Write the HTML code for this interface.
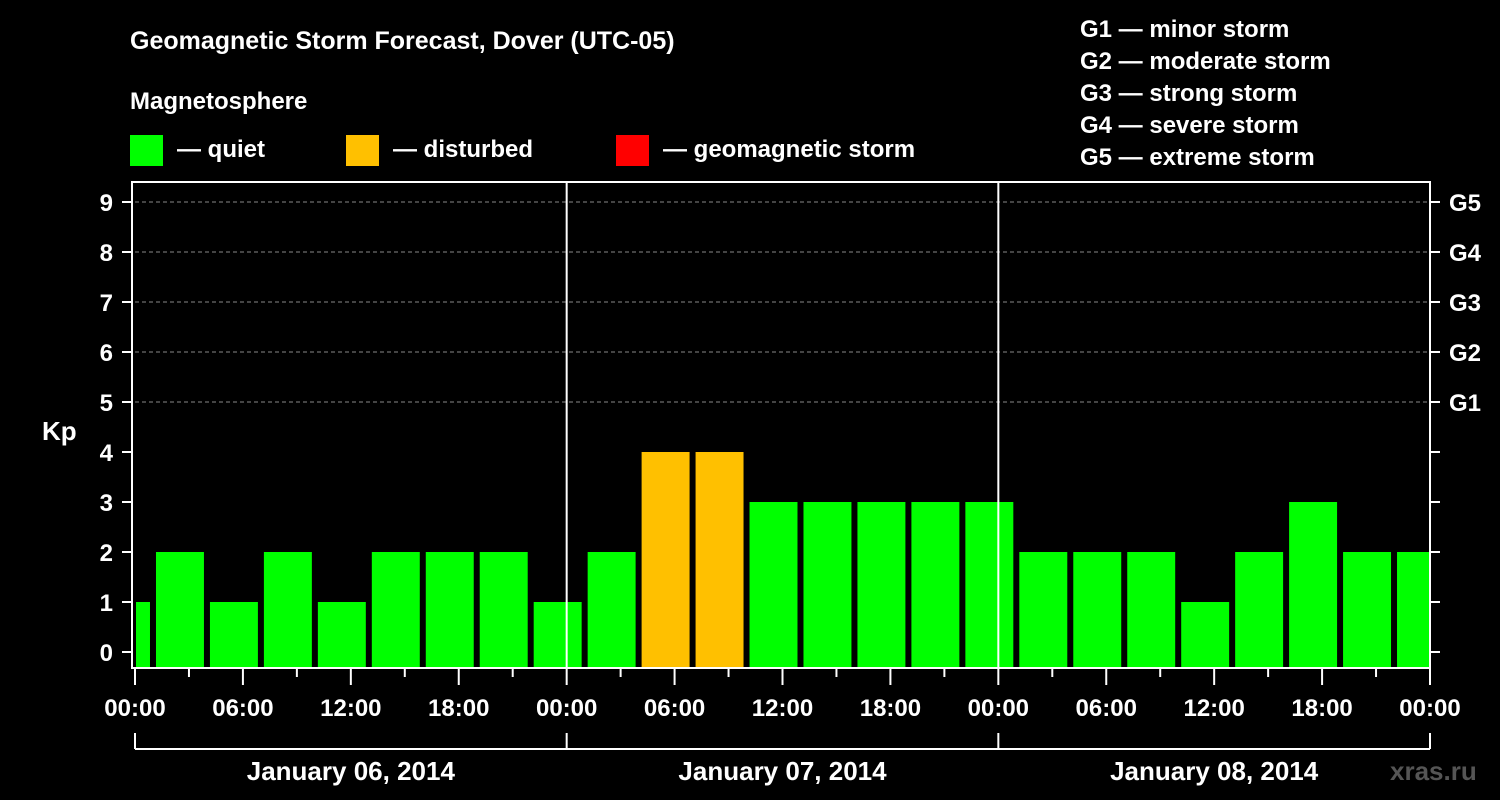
<!DOCTYPE html>
<html><head><meta charset="utf-8"><style>
html,body{margin:0;padding:0;background:#000;}
svg{display:block;font-family:"Liberation Sans",Arial,sans-serif;font-weight:bold;}
</style></head><body>
<svg id="chart" width="1500" height="800" viewBox="0 0 1500 800">
<text x="130" y="49" fill="#fff" font-size="25">Geomagnetic Storm Forecast, Dover (UTC-05)</text>
<text x="130" y="109" fill="#fff" font-size="24">Magnetosphere</text>
<g><rect x="130" y="135" width="33" height="31" fill="#00ff00"/><text x="177" y="157" fill="#fff" font-size="24">— quiet</text></g>
<g><rect x="346" y="135" width="33" height="31" fill="#ffc000"/><text x="393" y="157" fill="#fff" font-size="24">— disturbed</text></g>
<g><rect x="616" y="135" width="33" height="31" fill="#ff0000"/><text x="663" y="157" fill="#fff" font-size="24">— geomagnetic storm</text></g>
<g fill="#fff" font-size="24">
<text x="1080" y="37">G1 — minor storm</text>
<text x="1080" y="69">G2 — moderate storm</text>
<text x="1080" y="101">G3 — strong storm</text>
<text x="1080" y="133">G4 — severe storm</text>
<text x="1080" y="165">G5 — extreme storm</text>
</g>
<text x="42" y="440" fill="#fff" font-size="26">Kp</text>
<text x="1390" y="780" fill="#555" font-size="26">xras.ru</text>
<g id="plot"></g>
</svg>
<script>
const kpValues=[1,2,1,2,1,2,2,2,1,2,4,4,3,3,3,3,3,2,2,2,1,2,3,2,2];
const barStartHours=[-2,1,4,7,10,13,16,19,22,25,28,31,34,37,40,43,46,49,52,55,58,61,64,67,70];
const xTickLabels=["00:00","06:00","12:00","18:00","00:00","06:00","12:00","18:00","00:00","06:00","12:00","18:00","00:00"];
const dayLabels=["January 06, 2014","January 07, 2014","January 08, 2014"];
const gLabels=["G1","G2","G3","G4","G5"];
const NS="http://www.w3.org/2000/svg";
const L=135,R=1430,T=182,B=668;
const X=h=>L+h*(R-L)/72;
const Y=v=>652-v*50;
const g=document.getElementById('plot');
function mk(t,a,p){const e=document.createElementNS(NS,t);for(const k in a)e.setAttribute(k,a[k]);(p||g).appendChild(e);return e;}
// grid
for(let v=5;v<=9;v++){const e=mk('line',{x1:L,x2:R,y1:Y(v),y2:Y(v),stroke:'#888','stroke-dasharray':'4,3','stroke-width':1});

}
// bars
kpValues.forEach((v,i)=>{let x0=X(barStartHours[i])+3,x1=X(barStartHours[i]+3)-3;x0=Math.max(x0,L+1);x1=Math.min(x1,R);
const e=mk('rect',{x:x0,y:Y(v),width:x1-x0,height:B-Y(v),fill:v>=5?'#ff0000':(v>=4?'#ffc000':'#00ff00')});

});
// day separators
[24,48].forEach(h=>{const e=mk('line',{x1:X(h),x2:X(h),y1:T,y2:B,stroke:'#fff','stroke-width':2});

});
// frame
const fr=mk('rect',{x:L-3,y:T,width:R-L+3,height:B-T,fill:'none',stroke:'#fff','stroke-width':2});


// y ticks
for(let v=0;v<=9;v++){mk('line',{x1:L-13,x2:L-3,y1:Y(v),y2:Y(v),stroke:'#fff','stroke-width':2});
mk('line',{x1:R,x2:R+10,y1:Y(v),y2:Y(v),stroke:'#fff','stroke-width':2});
const t=mk('text',{x:L-22,y:Y(v)+9,fill:'#fff','font-size':24,'text-anchor':'end'});t.textContent=v;

}
gLabels.forEach((s,i)=>{const t=mk('text',{x:R+19,y:Y(i+5)+9,fill:'#fff','font-size':24});t.textContent=s;

});
// x ticks
for(let h=0;h<=72;h+=3){mk('line',{x1:X(h),x2:X(h),y1:B,y2:B+(h%6==0?17:9),stroke:'#fff','stroke-width':2});}
xTickLabels.forEach((s,i)=>{const t=mk('text',{x:X(i*6),y:716,fill:'#fff','font-size':24,'text-anchor':'middle'});t.textContent=s;

});
// bracket
mk('line',{x1:L,x2:R,y1:749,y2:749,stroke:'#fff','stroke-width':2});
[0,24,48,72].forEach(h=>mk('line',{x1:X(h),x2:X(h),y1:733,y2:749,stroke:'#fff','stroke-width':2}));
dayLabels.forEach((s,i)=>{const t=mk('text',{x:X(i*24+12),y:780,fill:'#fff','font-size':26,'text-anchor':'middle'});t.textContent=s;

});
</script>
</body></html>
